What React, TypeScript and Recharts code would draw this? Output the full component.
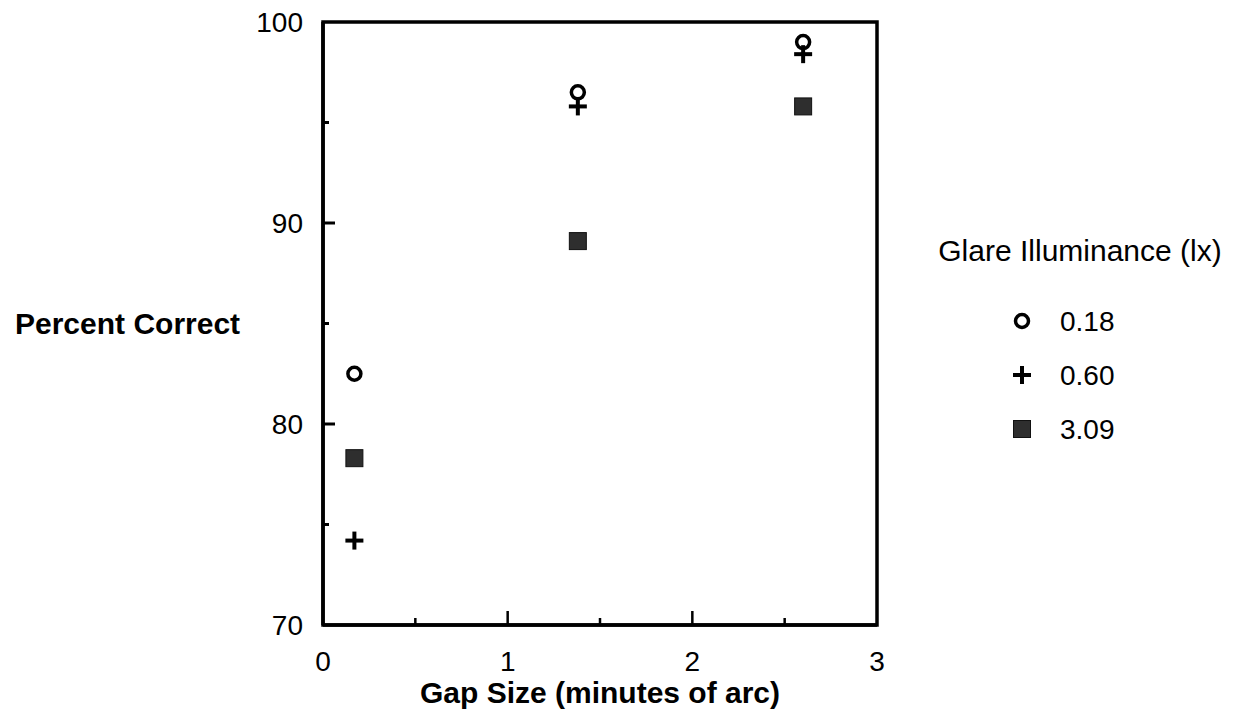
import { ScatterChart, Scatter, XAxis, YAxis, ReferenceArea } from "recharts";

const FONT = "'Liberation Sans', Arial, Helvetica, sans-serif";

// gap size (minutes of arc) per glare illuminance level
const lowGlare = [
  { gap: 0.17, pct: 82.5 },
  { gap: 1.38, pct: 96.5 },
  { gap: 2.6, pct: 99.0 },
];
const midGlare = [
  { gap: 0.17, pct: 74.2 },
  { gap: 1.38, pct: 95.8 },
  { gap: 2.6, pct: 98.4 },
];
const highGlare = [
  { gap: 0.17, pct: 78.3 },
  { gap: 1.38, pct: 89.1 },
  { gap: 2.6, pct: 95.8 },
];

const xTicks = [0, 0.5, 1, 1.5, 2, 2.5, 3];
const yTicks = [70, 75, 80, 85, 90, 95, 100];
const legendItems = [
  { label: "0.18", kind: "circle" },
  { label: "0.60", kind: "plus" },
  { label: "3.09", kind: "square" },
];

function Marker({ kind, cx, cy }: { kind: string; cx: number; cy: number }) {
  if (kind === "circle") {
    return <circle cx={cx} cy={cy} r={6.5} fill="none" stroke="#000" strokeWidth={3.5} />;
  }
  if (kind === "plus") {
    return (
      <g stroke="#000" strokeWidth={4}>
        <line x1={cx - 9} x2={cx + 9} y1={cy} y2={cy} />
        <line x1={cx} x2={cx} y1={cy - 9} y2={cy + 9} />
      </g>
    );
  }
  return <rect x={cx - 8.5} y={cy - 8.5} width={17} height={17} fill="#2e2e2e" stroke="#111" strokeWidth={1} />;
}

const YTick = (props: any) => {
  const { x, y, payload } = props;
  const v = payload.value;
  const major = v % 10 === 0;
  return (
    <g>
      {v !== 70 && v !== 100 && (
        <line x1={x} x2={x + (major ? 12 : 6)} y1={y} y2={y} stroke="#000" strokeWidth={3} />
      )}
      {major && (
        <text x={x - 20} y={y} textAnchor="end" dominantBaseline="central" fontSize={28} fontFamily={FONT} fill="#000">
          {v}
        </text>
      )}
    </g>
  );
};

const XTick = (props: any) => {
  const { x, y, payload } = props;
  const v = payload.value;
  const major = Number.isInteger(v);
  return (
    <g>
      {v !== 0 && v !== 3 && (
        <line x1={x} x2={x} y1={y} y2={y - (major ? 14 : 7)} stroke="#000" strokeWidth={2.5} />
      )}
      {major && (
        <text x={x} y={y + 36} textAnchor="middle" dominantBaseline="central" fontSize={28} fontFamily={FONT} fill="#000">
          {v}
        </text>
      )}
    </g>
  );
};

function GlareLegend() {
  return (
    <svg width={338} height={230} style={{ position: "absolute", left: 900, top: 225 }}>
      <text x={180} y={25} textAnchor="middle" dominantBaseline="central" fontSize={30} fontFamily={FONT} fill="#000">
        Glare Illuminance (lx)
      </text>
      {legendItems.map((item, i) => (
        <g key={item.label}>
          <Marker kind={item.kind} cx={122} cy={96 + i * 54} />
          <text x={160} y={96 + i * 54} dominantBaseline="central" fontSize={28} fontFamily={FONT} fill="#000">
            {item.label}
          </text>
        </g>
      ))}
    </svg>
  );
}

export default function App() {
  const axisLine = { stroke: "#000", strokeWidth: 3.5 };
  return (
    <div style={{ position: "absolute", left: 0, top: 0, width: 1238, height: 726, background: "#fff" }}>
      <ScatterChart width={1238} height={726} margin={{ top: 22, right: 361, bottom: 0, left: 0 }}>
        <XAxis
          type="number"
          dataKey="gap"
          domain={[0, 3]}
          ticks={xTicks}
          interval={0}
          tickSize={0}
          tickMargin={0}
          tickLine={false}
          axisLine={axisLine}
          tick={<XTick />}
          height={101}
          label={{
            value: "Gap Size (minutes of arc)",
            position: "insideBottom",
            offset: 23,
            style: { fontSize: 30, fontWeight: "bold", fontFamily: FONT, fill: "#000" },
          }}
        />
        <YAxis
          type="number"
          dataKey="pct"
          domain={[70, 100]}
          ticks={yTicks}
          interval={0}
          tickSize={0}
          tickMargin={0}
          tickLine={false}
          axisLine={axisLine}
          tick={<YTick />}
          width={323}
          label={{
            value: "Percent Correct",
            position: "insideLeft",
            offset: 15,
            style: { fontSize: 30, fontWeight: "bold", fontFamily: FONT, fill: "#000", textAnchor: "start" },
          }}
        />
        <ReferenceArea x1={0} x2={3} y1={70} y2={100} fill="none" stroke="#000" strokeWidth={3.5} fillOpacity={0} ifOverflow="visible" />
        <Scatter name="0.18" data={lowGlare} isAnimationActive={false} shape={(p: any) => <Marker kind="circle" cx={p.cx} cy={p.cy} />} />
        <Scatter name="0.60" data={midGlare} isAnimationActive={false} shape={(p: any) => <Marker kind="plus" cx={p.cx} cy={p.cy} />} />
        <Scatter name="3.09" data={highGlare} isAnimationActive={false} shape={(p: any) => <Marker kind="square" cx={p.cx} cy={p.cy} />} />
      </ScatterChart>
      <GlareLegend />
    </div>
  );
}
